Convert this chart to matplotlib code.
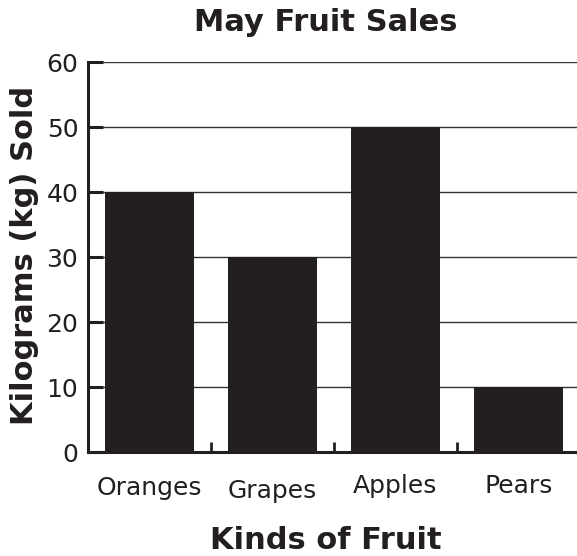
import matplotlib.pyplot as plt
from matplotlib.transforms import ScaledTranslation

plt.rcParams.update({
    'font.family': 'DejaVu Sans',
    'font.size': 18,
})

fruits = ['Oranges', 'Grapes', 'Apples', 'Pears']
kg_sold = [40, 30, 50, 10]
y_ticks = [0, 10, 20, 30, 40, 50, 60]
# small vertical nudges of the category labels (points), as in the original
label_nudge = [0, -2.5, 1, 1]

BAR = '#231f20'

fig = plt.figure(figsize=(5.77, 5.56), dpi=100)
ax = fig.add_axes([0.1525, 0.187, 0.8475, 0.7014])

x = list(range(len(fruits)))
ax.bar(x, kg_sold, width=0.724, color=BAR, zorder=2)

ax.set_xlim(-0.5, 3.476)
ax.set_ylim(0, 60)
ax.set_yticks(y_ticks)
ax.set_xticks(x)
ax.set_xticklabels(fruits)
ax.set_xticks([0.5, 1.5, 2.5], minor=True)

ax.yaxis.grid(True, color='#333333', linewidth=1.0, zorder=0)
ax.set_axisbelow(True)

for s in ['top', 'right']:
    ax.spines[s].set_visible(False)
for s in ['left', 'bottom']:
    ax.spines[s].set_linewidth(2.2)
    ax.spines[s].set_color(BAR)

ax.tick_params(axis='y', direction='in', length=11, width=2.2, color=BAR, pad=7, labelcolor=BAR)
ax.tick_params(axis='x', which='major', length=0, pad=17, labelcolor=BAR)
ax.tick_params(axis='x', which='minor', direction='in', length=7, width=2, color=BAR)

for lbl, dy in zip(ax.get_xticklabels(), label_nudge):
    lbl.set_transform(lbl.get_transform() + ScaledTranslation(0, dy / 72, fig.dpi_scale_trans))

fig.text(0.565, 0.96, 'May Fruit Sales', ha='center', va='center',
         fontsize=22, fontweight='bold', color=BAR)
fig.text(0.565, 0.028, 'Kinds of Fruit', ha='center', va='center',
         fontsize=22, fontweight='bold', color=BAR)
fig.text(0.042, 0.54, 'Kilograms (kg) Sold', ha='center', va='center', rotation=90,
         fontsize=22, fontweight='bold', color=BAR)

fig.savefig('out.png', dpi=100)
